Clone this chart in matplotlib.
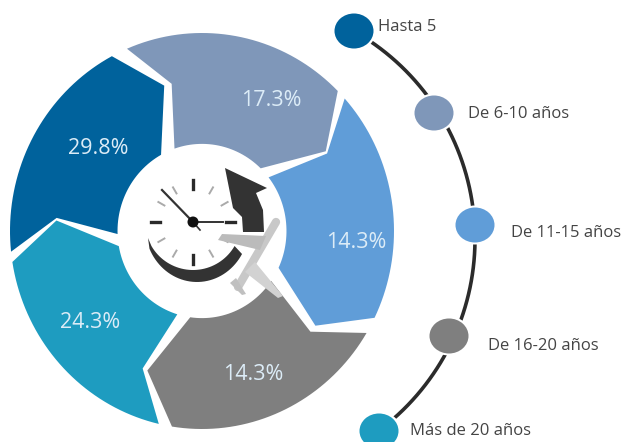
import numpy as np
import matplotlib
matplotlib.use("Agg")
from matplotlib import pyplot as plt
from matplotlib.patches import Polygon, Ellipse

plt.rcParams['font.family'] = ['Open Sans', 'DejaVu Sans']

categorias = ["Hasta 5", "De 6-10 años", "De 11-15 años", "De 16-20 años", "Más de 20 años"]
valores = [29.8, 17.3, 14.3, 14.3, 24.3]
colores = ["#00629c", "#7f97b9", "#609dd8", "#7f7f7f", "#1e9cc0"]

# posiciones en pixeles de la imagen
cx, cy = 202, 231
rx, ry = 192, 198
inicio = [-96, -23, 48, 121, 193]
extension = 68
pos_valor = [(98, 148), (271, 100), (356, 242), (253, 374), (90, 322)]
pos_nodo = [(354, 31), (434, 113), (475, 225), (449, 336), (379, 431)]
pos_texto = [(378, 27), (468, 114), (511, 233), (488, 346), (410, 431)]


def punto(r, ang):
    a = np.radians(ang)
    return cx + r*rx*np.sin(a), cy - r*ry*np.cos(a)


def segmento(a0, a1):
    r_in, r_mid = 0.44, 0.76
    pts = [punto(1, a) for a in np.linspace(a0, a1, 40)]
    pts.append(punto(r_mid, a1 + 13))
    pts += [punto(r_in, a) for a in np.linspace(a1 - 1, a0 + 4, 30)]
    pts.append(punto(r_mid, a0 + 11))
    return pts


fig = plt.figure(figsize=(6.25, 4.42), dpi=100)
ax = fig.add_axes([0, 0, 1, 1])
ax.set_xlim(0, 625)
ax.set_ylim(442, 0)
ax.axis('off')

for a0, color, val, (x, y) in zip(inicio, colores, valores, pos_valor):
    ax.add_patch(Polygon(segmento(a0, a0 + extension), closed=True, fc=color, ec='none'))
    ax.text(x, y, f"{val}%", color='#dcecf7', fontsize=15.5, ha='center', va='center', zorder=5)

# linea curva de la leyenda
ang = np.radians(np.linspace(-56, 51, 200))
ax.plot(236 + 239*np.cos(ang), 239 + 239*np.sin(ang), color='#2b2b2b', lw=2.6, zorder=2)

for (x, y), color, nombre, (tx, ty) in zip(pos_nodo, colores, categorias, pos_texto):
    ax.add_patch(Ellipse((x, y), 44, 39, fc='white', ec='none', zorder=3))
    ax.add_patch(Ellipse((x, y), 39, 35, fc=color, ec='none', zorder=4))
    ax.text(tx, ty, nombre, color='#444444', fontsize=12, ha='left', va='center', zorder=5)

# reloj
ccx, ccy = 193, 222
for h in range(12):
    a = np.radians(h*30)
    grueso = h % 3 == 0
    r0, r1 = (33, 42) if grueso else (33, 40)
    ax.plot([ccx + r0*np.sin(a), ccx + r1*np.sin(a)], [ccy - r0*np.cos(a), ccy - r1*np.cos(a)],
            color='#2a2a2a' if grueso else '#aaaaaa', lw=2.4 if grueso else 1.4, zorder=6)
ax.plot([ccx, 162], [ccy, 190], color='#333333', lw=1.6, zorder=7)
ax.plot([ccx, 223], [ccy, 222], color='#333333', lw=1.4, zorder=7)
ax.plot([ccx, 200], [ccy, 230], color='#333333', lw=1.2, zorder=7)
ax.add_patch(Ellipse((ccx, ccy), 11, 11, fc='#111111', ec='none', zorder=8))

# media luna debajo del reloj
t_ext = np.radians(np.linspace(-66, 60, 40))
t_int = np.radians(np.linspace(60, -60, 40))
luna = [(148, 238)]
luna += [(197 + 52*np.sin(q), 226 + 56*np.cos(q)) for q in t_ext]
luna += [(193 + 48*np.sin(q), 222 + 48*np.cos(q)) for q in t_int]
ax.add_patch(Polygon(luna, closed=True, fc='#333333', ec='none', zorder=5))

# flecha
ax.add_patch(Polygon([(225, 168), (267, 188), (256, 193), (263, 210), (264, 232), (243, 232),
                      (242, 217), (233, 208)], closed=True, fc='#333333', ec='none', zorder=5))

# avion
ax.plot([276, 238], [222, 287], color='#c8c8c8', lw=6, solid_capstyle='round', zorder=9)
ax.add_patch(Polygon([(260, 250), (218, 240), (222, 234), (266, 236)], closed=True, fc='#bbbbbb', ec='none', zorder=9))
ax.add_patch(Polygon([(255, 262), (283, 296), (278, 298), (245, 272)], closed=True, fc='#d2d2d2', ec='none', zorder=9))
ax.add_patch(Polygon([(236, 278), (246, 294), (242, 295), (230, 283)], closed=True, fc='#c0c0c0', ec='none', zorder=9))

fig.savefig('out.png', dpi=100)
